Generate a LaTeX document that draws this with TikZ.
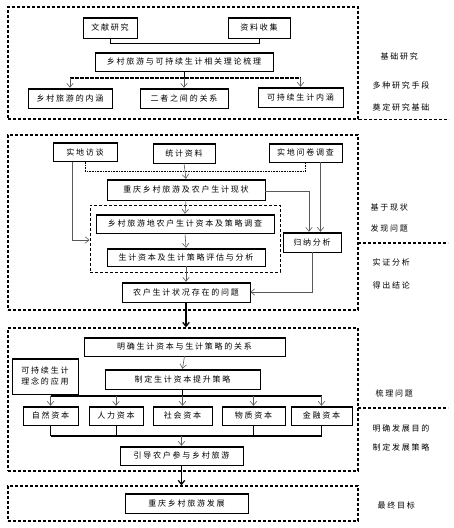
\documentclass[tikz,border=0pt]{standalone}
\usepackage{fontspec}
\setmainfont{Noto Sans CJK SC}[LetterSpace=22]
\usetikzlibrary{arrows.meta, positioning}

\begin{document}
\begin{tikzpicture}[x=1pt, y=-1pt, font=\fontsize{8}{10.5}\selectfont,
  sec/.style={draw, line width=1.3pt, dash pattern=on 3pt off 2pt, minimum width=350},
  inbox/.style={draw, line width=0.9pt, dash pattern=on 3pt off 2pt},
  box/.style={draw, line width=0.5pt, inner sep=1pt, minimum height=19, path picture={\draw[line width=3pt] (path picture bounding box.north west) -- (path picture bounding box.north east);}},
  arr/.style={-{Straight Barb[length=4pt, width=6.5pt]}, gray!70!black, line width=0.6pt},
  bus/.style={line width=1.3pt},
  bigarr/.style={-{Straight Barb[length=4pt, width=6.5pt]}, line width=1.3pt},
  lab/.style={anchor=west}]
\useasboundingbox (0,0) rectangle (453,528);
% sections
\node[sec, minimum height=112] (sec1) at (183,63) {};
\node[sec, minimum height=175] (sec2) at (183,222.5) {};
\node[sec, minimum height=143] (sec3) at (183,399.5) {};
\node[sec, minimum height=35] (sec4) at (183,503.5) {};
\coordinate (s2) at (358,243);
\coordinate (s3) at (358,408);
\draw[line width=1.3pt, dash pattern=on 3pt off 2pt] (sec1.south east) -- ++(90,0);
\draw[line width=1.3pt, dash pattern=on 3pt off 2pt] (s2) -- ++(90,0);
\draw[line width=1.3pt, dash pattern=on 3pt off 2pt] (s3) -- ++(90,0);
% right labels
\node[lab] at (377,56) {基础研究};
\node[lab] at (369,85) {多种研究手段};
\node[lab] at (369,107) {奠定研究基础};
\node[lab] at (367,207) {基于现状};
\node[lab] at (367,228) {发现问题};
\node[lab] at (369,262) {实证分析};
\node[lab] at (369,285) {得出结论};
\node[lab] at (372,393) {梳理问题};
\node[lab] at (369,428) {明确发展目的};
\node[lab] at (369,447) {制定发展策略};
\node[lab] at (374,505) {最终目标};
% part 1
\node[box, minimum width=54, minimum height=21] (wx) at (110,27.5) {文献研究};
\node[box, minimum width=62, minimum height=21] (zl) at (259,27.5) {资料收集};
\node[box, minimum width=178] (ll) at (184,61.5) {乡村旅游与可持续生计相关理论梳理};
\node[box, minimum width=84, minimum height=20] (nh) at (70,98) {乡村旅游的内涵};
\node[box, minimum width=88, minimum height=20] (gx) at (184,98) {二者之间的关系};
\node[box, minimum width=85, minimum height=20] (ks) at (300.5,97) {可持续生计内涵};
\draw[bus, line width=1pt] (wx.south) -- ++(0,5) -| (zl.south);
\coordinate (b1) at (0,78);
\draw[line width=0.6pt] (ll.south) -- (ll.south |- b1);
\draw[bus, dash pattern=on 4pt off 1pt] (nh.north |- b1) -- (ks.north |- b1);
\foreach \n in {nh,gx,ks}{\draw[arr] (\n.north |- b1) -- (\n.north);}
% part 2
\node[box, minimum width=64] (fb) at (85,152) {实地访谈};
\node[box, minimum width=62, minimum height=20] (tj) at (184,153) {统计资料};
\node[box, minimum width=73] (wj) at (305.5,152.5) {实地问卷调查};
\node[box, minimum width=158, minimum height=21] (xz) at (186,189.5) {重庆乡村旅游及农户生计现状};
\node[inbox, minimum width=190, minimum height=67] (nb) at (185,238.5) {};
\node[box, minimum width=178] (dc) at (185,223.5) {乡村旅游地农户生计资本及策略调查};
\node[box, minimum width=158, minimum height=18] (pg) at (186,257) {生计资本及生计策略评估与分析};
\node[box, minimum width=58, minimum height=20] (gn) at (312,242) {归纳分析};
\node[box, minimum width=128, minimum height=20] (wt) at (186,292) {农户生计状况存在的问题};
\coordinate (b2) at (0,171);
\coordinate (b3) at (0,240);
\draw[line width=1pt, dash pattern=on 0.8pt off 0.8pt] (fb.south) -- (fb.south |- b2) -- (wj.south |- b2) -- (wj.south);
\draw[arr] (tj.south) -- (xz.north);
\draw[arr] ([xshift=-13]fb.south) -- ([xshift=-13]fb.south |- b3) -- (nb.west |- b3);
\draw[arr] ([xshift=15]wj.south) -- ([xshift=15]wj.south |- gn.north);
\draw[arr] ([yshift=-2]xz.east) -| ([xshift=-3]gn.north);
\draw[arr] (xz.south) -- (dc.north);
\draw[arr] (dc.south) -- (pg.north);
\draw[arr] (pg.south) -- (wt.north);
\draw[arr] (gn.south) |- (wt.east);
\draw[bigarr] (wt.south) -- (wt.south |- sec3.north);
% part 3
\node[box, minimum width=201] (mq) at (184.5,346.5) {明确生计资本与生计策略的关系};
\node[box, minimum width=66, minimum height=36, align=left] (yy) at (45,376) {可持续生计\\理念的应用};
\node[box, minimum width=155, minimum height=20] (zd) at (182.5,379) {制定生计资本提升策略};
\node[box, minimum width=55] (zr) at (50.5,415.5) {自然资本};
\node[box, minimum width=54] (rl) at (116,415.5) {人力资本};
\node[box, minimum width=59] (sh) at (182.5,415.5) {社会资本};
\node[box, minimum width=63] (wz) at (253.5,415.5) {物质资本};
\node[box, minimum width=61] (jr) at (321.5,415.5) {金融资本};
\node[box, minimum width=123] (yd) at (181.5,455.5) {引导农户参与乡村旅游};
\coordinate (b4) at (0,396);
\coordinate (b5) at (0,436);
\draw[arr] (mq.south) -- (zd.north);
\draw[line width=0.6pt] (zd.south) -- (zd.south |- b4);
\draw[bus] (zr.north |- b4) -- (jr.north |- b4);
\draw[bus] (zr.south |- b5) -- (jr.south |- b5);
\foreach \n in {zr,rl,sh,wz,jr}{\draw[arr] (\n.north |- b4) -- (\n.north);}
\foreach \n in {zr,rl,wz,jr}{\draw[line width=0.6pt] (\n.south) -- (\n.south |- b5);}
\draw[arr] (yd.north |- b5) -- (yd.north);
\draw[bigarr] (yd.south) -- (yd.south |- sec4.north);
% part 4
\node[box, minimum width=123, minimum height=20] (fz) at (186.5,503) {重庆乡村旅游发展};
\end{tikzpicture}
\end{document}
